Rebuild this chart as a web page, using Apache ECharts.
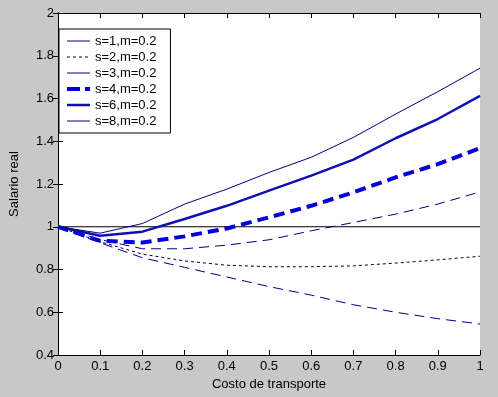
<!DOCTYPE html>
<html>
<head>
<meta charset="utf-8">
<script src="https://cdn.jsdelivr.net/npm/echarts@6/dist/echarts.min.js"></script>
<style>
  html, body { margin: 0; padding: 0; background: #c8c8c8; }
  #chart { width: 498px; height: 397px; }
</style>
</head>
<body>
<div id="chart"></div>
<script>
// costo de transporte (eje x)
var costo = [0, 0.1, 0.2, 0.3, 0.4, 0.5, 0.6, 0.7, 0.8, 0.9, 1]
// salario real por cada s
var s1 = [1, 0.925, 0.855, 0.81, 0.765, 0.72, 0.68, 0.635, 0.6, 0.57, 0.545]
var s2 = [1, 0.93, 0.872, 0.84, 0.82, 0.813, 0.813, 0.817, 0.83, 0.845, 0.862]
var s3 = [1, 0.94, 0.897, 0.897, 0.914, 0.939, 0.981, 1.02, 1.059, 1.106, 1.163]
var s4 = [1, 0.934, 0.926, 0.955, 0.992, 1.044, 1.098, 1.161, 1.231, 1.293, 1.368]
var s6 = [1, 0.958, 0.977, 1.036, 1.098, 1.169, 1.239, 1.314, 1.414, 1.504, 1.612]
var s8 = [1, 0.97, 1.015, 1.106, 1.176, 1.254, 1.325, 1.418, 1.527, 1.632, 1.742]
// linea horizontal de referencia (salario real = 1)
var refX = [0, 1]
var refY = [1, 1]
var nombres = ['s=1,m=0.2', 's=2,m=0.2', 's=3,m=0.2', 's=4,m=0.2', 's=6,m=0.2', 's=8,m=0.2']

function pares(xs, ys) {
  return ys.map(function (y, i) { return [xs[i], y] })
}

var font = 'Liberation Sans, Arial, sans-serif'

function linea(name, ys, color, width, type) {
  return {
    name: name,
    type: 'line',
    data: pares(costo, ys),
    showSymbol: false,
    symbol: 'none',
    animation: false,
    color: color,
    lineStyle: { color: color, width: width, type: type }
  }
}

var chart = echarts.init(document.getElementById('chart'))
chart.setOption({
  backgroundColor: '#c8c8c8',
  grid: { left: 47, right: 18, top: 13, bottom: 42, show: true, backgroundColor: '#ffffff', borderWidth: 0 },
  legend: {
    orient: 'vertical',
    left: 59,
    top: 29,
    backgroundColor: '#ffffff',
    borderColor: '#000000',
    borderWidth: 1,
    borderRadius: 0,
    padding: [5, 14, 5, 6],
    itemWidth: 23,
    itemHeight: 14,
    itemGap: 2,
    itemStyle: { opacity: 0 },
    textStyle: { fontFamily: font, fontSize: 13, color: '#000000', lineHeight: 14 },
    data: [
      { name: nombres[0], lineStyle: { type: 'solid', width: 1 } },
      { name: nombres[1], lineStyle: { width: 1, type: [3, 3] } },
      { name: nombres[2], lineStyle: { type: 'solid', width: 1 } },
      { name: nombres[3], lineStyle: { width: 4, type: [13, 5] } },
      { name: nombres[4], lineStyle: { width: 2.5 } },
      { name: nombres[5], lineStyle: { width: 1 } }
    ]
  },
  xAxis: [{
    type: 'value',
    min: 0,
    max: 1,
    interval: 0.1,
    name: 'Costo de transporte',
    nameLocation: 'middle',
    nameGap: 23,
    nameTextStyle: { fontFamily: font, fontSize: 13, color: '#000000' },
    axisLine: { lineStyle: { color: '#000000', width: 1 } },
    axisTick: { inside: true, length: 5, lineStyle: { color: '#000000' } },
    axisLabel: { fontFamily: font, fontSize: 13, color: '#000000', margin: 5 },
    splitLine: { show: false }
  }, {
    type: 'value',
    position: 'top',
    min: 0,
    max: 1,
    interval: 0.1,
    axisLine: { lineStyle: { color: '#000000', width: 1 } },
    axisTick: { inside: true, length: 5, lineStyle: { color: '#000000' } },
    axisLabel: { show: false },
    splitLine: { show: false }
  }],
  yAxis: [{
    type: 'value',
    min: 0.4,
    max: 2,
    interval: 0.2,
    name: 'Salario real',
    nameLocation: 'middle',
    nameGap: 37,
    nameRotate: 90,
    nameTextStyle: { fontFamily: font, fontSize: 13, color: '#000000' },
    axisLine: { show: true, lineStyle: { color: '#000000', width: 1 } },
    axisTick: { show: true, inside: true, length: 5, lineStyle: { color: '#000000' } },
    axisLabel: { fontFamily: font, fontSize: 13, color: '#000000', margin: 4 },
    splitLine: { show: false }
  }, {
    type: 'value',
    position: 'right',
    min: 0.4,
    max: 2,
    interval: 0.2,
    axisLine: { show: true, lineStyle: { color: '#000000', width: 1 } },
    axisTick: { show: true, inside: true, length: 5, lineStyle: { color: '#000000' } },
    axisLabel: { show: false },
    splitLine: { show: false }
  }],
  series: [
    {
      name: 'ref',
      type: 'line',
      data: pares(refX, refY),
      showSymbol: false,
      symbol: 'none',
      animation: false,
      lineStyle: { color: '#000000', width: 1 }
    },
    linea(nombres[0], s1, '#000080', 1, [10, 6]),
    linea(nombres[1], s2, '#000033', 1, [3, 3]),
    linea(nombres[2], s3, '#000080', 1, [10, 6]),
    linea(nombres[3], s4, '#0000dd', 4, [11, 6]),
    linea(nombres[4], s6, '#1010b0', 2.5, 'solid'),
    linea(nombres[5], s8, '#000080', 1, 'solid')
  ]
})
</script>
</body>
</html>
